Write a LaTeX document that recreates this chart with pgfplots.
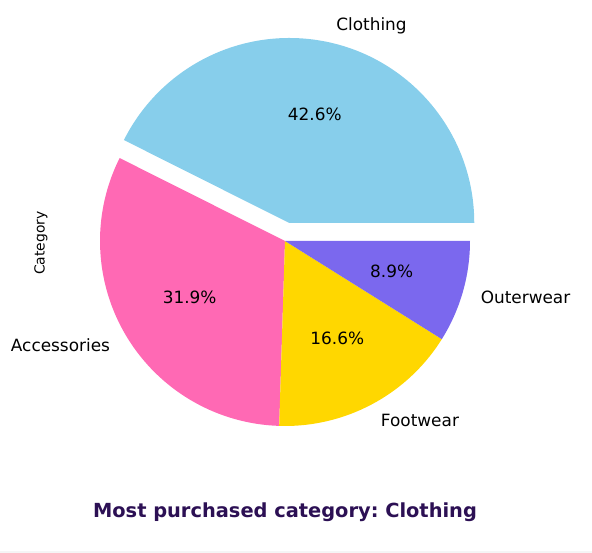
\documentclass[border=0pt]{standalone}
\usepackage{fontspec}
\setmainfont{DejaVu Sans}
\usepackage{pgfplots}
\pgfplotsset{compat=1.18}
\frenchspacing
\definecolor{cloth}{HTML}{87CEEB}
\definecolor{acc}{HTML}{FF69B4}
\definecolor{foot}{HTML}{FFD700}
\definecolor{outer}{HTML}{7B68EE}
\definecolor{titlecol}{RGB}{44,16,84}
% data (percent of purchases)
\def\vClothing{42.6}
\def\vAccessories{31.9}
\def\vFootwear{16.6}
\def\vOuterwear{8.9}
\pgfmathsetmacro{\aA}{\vClothing*3.6}
\pgfmathsetmacro{\aB}{\aA+\vAccessories*3.6}
\pgfmathsetmacro{\aC}{\aB+\vFootwear*3.6}
\pgfmathsetmacro{\aD}{\aC+\vOuterwear*3.6}
\pgfmathsetmacro{\mA}{\aA/2}
\pgfmathsetmacro{\mB}{(\aA+\aB)/2}
\pgfmathsetmacro{\mC}{(\aB+\aC)/2}
\pgfmathsetmacro{\mD}{(\aC+\aD)/2}
\newcommand{\lbl}{\fontsize{16.9}{20}\selectfont}
\tikzset{lb/.style={inner sep=0pt,text height=0.73em,text depth=0.24em,yshift=-3.5pt}}
\begin{document}
\begin{tikzpicture}
\begin{axis}[
  width=592pt, height=553pt, scale only axis,
  xmin=0, xmax=592, ymin=0, ymax=553,
  hide axis, clip=false,
]
\path (axis cs:0,0) rectangle (axis cs:592,553);
\fill[black!4] (axis cs:0,0) rectangle (axis cs:592,2);
% slices
\fill[cloth] (axis cs:285,312) ++(\mA:18.5pt) -- ++(0:185pt) arc[start angle=0,end angle=\aA,radius=185pt] -- cycle;
\fill[acc] (axis cs:285,312) -- ++(\aA:185pt) arc[start angle=\aA,end angle=\aB,radius=185pt] -- cycle;
\fill[foot] (axis cs:285,312) -- ++(\aB:185pt) arc[start angle=\aB,end angle=\aC,radius=185pt] -- cycle;
\fill[outer] (axis cs:285,312) -- ++(\aC:185pt) arc[start angle=\aC,end angle=\aD,radius=185pt] -- cycle;
% category labels
\path (axis cs:285,312) ++(\mA:18.5pt) ++(\mA:203.5pt) node[anchor=west,lb]{\lbl Clothing};
\path (axis cs:285,312) ++(\mB:203.5pt) node[anchor=east,lb]{\lbl Accessories};
\path (axis cs:285,312) ++(\mC:203.5pt) node[anchor=west,lb]{\lbl Footwear};
\path (axis cs:285,312) ++(\mD:203.5pt) node[anchor=west,lb]{\lbl Outerwear};
% percentages
\path (axis cs:285,312) ++(\mA:18.5pt) ++(\mA:111pt) node[lb]{\lbl 42.6\%};
\path (axis cs:285,312) ++(\mB:111pt) node[lb]{\lbl 31.9\%};
\path (axis cs:285,312) ++(\mC:111pt) node[lb]{\lbl 16.6\%};
\path (axis cs:285,312) ++(\mD:111pt) node[lb]{\lbl 8.9\%};
% y label and title
\node[rotate=90,inner sep=0pt] at (axis cs:41,310) {\fontsize{13.9}{16}\selectfont Category};
\node[inner sep=0pt,text=titlecol] at (axis cs:285,41) {\fontsize{19.4}{23}\selectfont\bfseries Most purchased category: Clothing};
\end{axis}
\end{tikzpicture}
\end{document}
